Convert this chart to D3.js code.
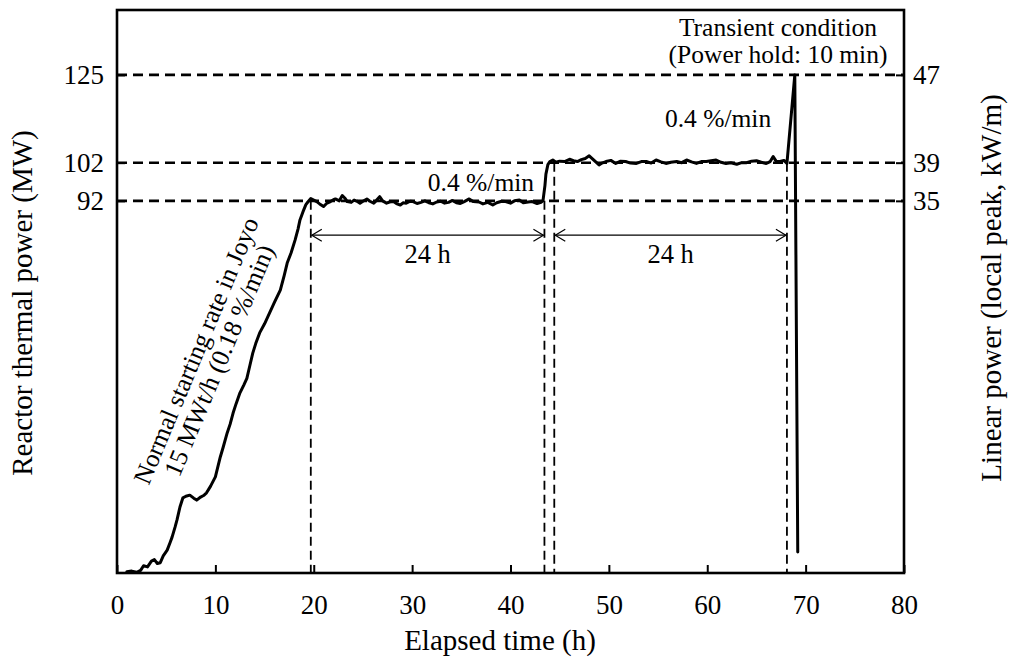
<!DOCTYPE html>
<html>
<head>
<meta charset="utf-8">
<script src="https://cdn.jsdelivr.net/npm/d3@7"></script>
<style>
  body { margin: 0; background: #fff; }
  svg { display: block; }
  text { font-family: "Liberation Serif", "Times New Roman", serif; fill: #000; }
</style>
</head>
<body>
<svg id="chart" width="1011" height="662"></svg>
<script>
// Reactor power history: start-up, two 24 h holds and the transient test
const timeH = [
  1.0, 1.5, 2.0, 2.4, 2.7, 3.1, 3.5, 3.8, 4.1, 4.4, 4.7, 5.1, 5.4, 5.6, 5.9, 6.1, 6.4, 6.7,
  7.0, 7.4, 7.8, 8.1, 8.5, 8.8, 9.1, 9.5, 10.0, 10.5, 10.8, 11.2, 11.5, 11.8, 12.1, 12.5,
  12.9, 13.2, 13.5, 13.8, 14.1, 14.5, 15.0, 15.5, 16.0, 16.6, 17.0, 17.3, 17.7, 18.1, 18.4,
  18.6, 18.9, 19.2, 19.4, 19.7, 20.0, 20.3, 20.6, 21.0, 21.3, 21.7, 22.0, 22.2, 22.6, 22.9,
  23.2, 23.4, 23.8, 24.1, 24.4, 24.7, 25.0, 25.4, 25.7, 26.1, 26.4, 26.7, 27.0, 27.4, 27.7,
  28.1, 28.4, 28.8, 29.1, 29.4, 29.8, 30.1, 30.5, 30.9, 31.3, 31.7, 32.1, 32.5, 32.9, 33.3,
  33.7, 34.1, 34.5, 34.9, 35.3, 35.8, 36.2, 36.8, 37.2, 37.7, 38.2, 38.6, 39.1, 39.5, 40.0,
  40.4, 40.9, 41.3, 41.8, 42.2, 42.7, 43.1, 43.3, 43.5, 43.6, 43.8, 44.0, 44.3, 44.6, 45.0,
  45.5, 46.0, 46.4, 46.8, 47.2, 47.6, 48.0, 48.5, 49.0, 49.3, 49.7, 50.2, 50.7, 51.2, 51.7,
  52.2, 52.8, 53.3, 53.8, 54.3, 54.8, 55.3, 55.8, 56.3, 56.9, 57.4, 57.9, 58.4, 58.9, 59.4,
  59.9, 60.4, 60.9, 61.4, 61.9, 62.4, 63.0, 63.5, 64.0, 64.5, 65.0, 65.5, 66.0, 66.4, 66.7,
  67.0, 67.4, 67.8, 68.1, 68.9, 69.2
];
const powerMW = [
  -5.2, -5.0, -5.3, -4.8, -3.6, -3.9, -2.4, -2.0, -3.0, -2.8, -1.0, 0.5, 2.5, 3.9, 6.5, 8.4, 11.8, 14.2,
  14.6, 14.9, 14.1, 13.6, 14.4, 14.8, 15.5, 17.2, 19.7, 24.9, 27.5, 31.2, 33.5, 36.4, 38.8, 41.7,
  43.8, 45.5, 48.8, 52.1, 54.6, 57.4, 59.8, 62.6, 65.4, 68.6, 72.5, 75.7, 78.4, 81.7, 84.6,
  87.0, 89.1, 91.0, 91.7, 92.6, 92.2, 91.8, 91.2, 90.5, 91.3, 91.8, 92.3, 92.5, 92.0, 93.4,
  92.6, 91.8, 91.6, 92.2, 91.9, 91.4, 91.9, 92.5, 91.9, 91.4, 92.2, 93.1, 92.0, 91.4, 91.7,
  91.8, 91.3, 90.9, 91.5, 91.4, 91.9, 91.8, 91.3, 91.6, 92.0, 91.5, 91.2, 91.7, 91.9, 91.4,
  91.6, 92.1, 91.5, 91.3, 91.8, 92.5, 91.8, 91.7, 91.2, 91.6, 90.9, 91.5, 91.9, 91.8, 91.4,
  92.0, 92.2, 91.5, 91.7, 91.8, 91.3, 91.6, 92.0, 96.0, 99.0, 101.5, 102.3, 102.7, 102.1, 102.4,
  102.3, 102.9, 102.5, 102.3, 102.8, 103.1, 103.8, 102.6, 101.4, 101.9, 102.3, 102.6, 101.8, 102.4, 102.3,
  101.9, 101.8, 102.3, 102.3, 101.9, 102.7, 102.2, 101.8, 102.1, 102.3, 102.0, 102.7, 102.2, 101.8, 102.3,
  102.3, 102.5, 102.7, 102.1, 101.8, 102.0, 101.6, 102.0, 102.0, 102.4, 102.5, 102.1, 101.8, 102.3, 103.6,
  102.4, 102.3, 102.6, 101.8, 125.0, 0.0
];

const xTickValues = [0, 10, 20, 30, 40, 50, 60, 70, 80];
const powerLevels = [125, 102, 92];                 // MW, left axis
const linearPowerLabels = ["47", "39", "35"];       // kW/m, right axis
const markerTimes = [19.7, 43.45, 44.45, 68.1];     // start/end of each hold (h)
const markerLevels = [92, 92, 102, 102];            // power level each marker drops from
const holdStart = [19.7, 44.45];
const holdEnd = [43.45, 68.1];
const holdLabels = ["24 h", "24 h"];

const svg = d3.select("#chart");
const width = 1011, height = 662;
const plot = { left: 117, right: 904, top: 10, bottom: 573 };

svg.append("rect").attr("width", width).attr("height", height).attr("fill", "#fff");

const x = d3.scaleLinear().domain([0, 80]).range([plot.left, plot.right]);
const y = d3.scaleLinear().domain([-5.5, 142]).range([plot.bottom, plot.top]);

const tickFont = 27, noteFont = 25.5, titleFont = 29;

// Horizontal reference levels
svg.append("g").selectAll("line").data(powerLevels).join("line")
  .attr("x1", plot.left).attr("x2", plot.right)
  .attr("y1", d => y(d)).attr("y2", d => y(d))
  .attr("stroke", "#000").attr("stroke-width", 2.6).attr("stroke-dasharray", "10,6");

// Vertical markers bounding the holds
svg.append("g").selectAll("line").data(markerTimes).join("line")
  .attr("x1", d => x(d)).attr("x2", d => x(d))
  .attr("y1", (d, i) => y(markerLevels[i])).attr("y2", plot.bottom)
  .attr("stroke", "#000").attr("stroke-width", 1.8).attr("stroke-dasharray", "9,5");

// Power curve
const line = d3.line().x((d, i) => x(timeH[i])).y(d => y(d)).curve(d3.curveLinear);
svg.append("path").datum(powerMW)
  .attr("d", line)
  .attr("fill", "none").attr("stroke", "#000").attr("stroke-width", 3)
  .attr("stroke-linejoin", "round").attr("stroke-linecap", "round");

// Axes
const xAxis = d3.axisBottom(x).tickValues(xTickValues).tickSizeInner(-8).tickSizeOuter(0).tickPadding(22);
const gx = svg.append("g").attr("transform", `translate(0,${plot.bottom})`).call(xAxis);
const yAxisL = d3.axisLeft(y).tickValues(powerLevels).tickSizeInner(-8).tickSizeOuter(0).tickPadding(13);
const gyl = svg.append("g").attr("transform", `translate(${plot.left},0)`).call(yAxisL);
const yAxisR = d3.axisRight(y).tickValues(powerLevels).tickFormat((d, i) => linearPowerLabels[i])
  .tickSizeInner(-8).tickSizeOuter(0).tickPadding(9);
const gyr = svg.append("g").attr("transform", `translate(${plot.right},0)`).call(yAxisR);

[gx, gyl, gyr].forEach(g => {
  g.select(".domain").remove();
  g.selectAll(".tick line").attr("stroke", "#000").attr("stroke-width", 2);
  g.selectAll(".tick text").style("font-size", tickFont + "px")
    .style("font-family", '"Liberation Serif", serif').attr("fill", "#000");
});

// Frame
svg.append("rect")
  .attr("x", plot.left).attr("y", plot.top)
  .attr("width", plot.right - plot.left).attr("height", plot.bottom - plot.top)
  .attr("fill", "none").attr("stroke", "#000").attr("stroke-width", 2.6);

// Hold duration arrows
const arrowLevel = 83;
const ay = y(arrowLevel);
const holds = svg.append("g");
holdStart.forEach((s, i) => {
  const x1 = x(s) + 1, x2 = x(holdEnd[i]) - 1;
  holds.append("line").attr("x1", x1).attr("x2", x2).attr("y1", ay).attr("y2", ay)
    .attr("stroke", "#000").attr("stroke-width", 1.2);
  holds.append("path")
    .attr("d", `M${x1 + 10},${ay - 6}L${x1},${ay}L${x1 + 10},${ay + 6}M${x2 - 10},${ay - 6}L${x2},${ay}L${x2 - 10},${ay + 6}`)
    .attr("fill", "none").attr("stroke", "#000").attr("stroke-width", 1.2);
  holds.append("text")
    .attr("x", x((s + holdEnd[i]) / 2)).attr("y", ay + 28)
    .attr("text-anchor", "middle").style("font-size", (noteFont + 1) + "px")
    .text(holdLabels[i]);
});

// Ramp-rate annotations
svg.append("text").attr("x", x(37.0)).attr("y", y(94.6))
  .attr("text-anchor", "middle").style("font-size", noteFont + "px").text("0.4 %/min");
svg.append("text").attr("x", x(61.1)).attr("y", y(111.3))
  .attr("text-anchor", "middle").style("font-size", noteFont + "px").text("0.4 %/min");

// Transient test note
const tn = svg.append("text").attr("text-anchor", "middle").style("font-size", noteFont + "px");
tn.append("tspan").attr("x", 778).attr("y", 36).text("Transient condition");
tn.append("tspan").attr("x", 778).attr("y", 63).text("(Power hold: 10 min)");

// Start-up rate note along the ramp
const ramp = svg.append("g").attr("transform", "translate(204,354) rotate(-67.3)");
ramp.append("text").attr("x", 0).attr("y", 0).attr("text-anchor", "middle")
  .style("font-size", noteFont + "px").text("Normal starting rate in Joyo");
ramp.append("text").attr("x", 0).attr("y", 25).attr("text-anchor", "middle")
  .style("font-size", noteFont + "px").text("15 MWt/h (0.18 %/min)");

// Axis titles
svg.append("text").attr("x", 500).attr("y", 650)
  .attr("text-anchor", "middle").style("font-size", titleFont + "px").text("Elapsed time (h)");
svg.append("text").attr("transform", "translate(32,303) rotate(-90)")
  .attr("text-anchor", "middle").style("font-size", titleFont + "px").text("Reactor thermal power (MW)");
svg.append("text").attr("transform", "translate(1001,288) rotate(-90)")
  .attr("text-anchor", "middle").style("font-size", titleFont + "px").text("Linear power (local peak, kW/m)");
</script>
</body>
</html>
